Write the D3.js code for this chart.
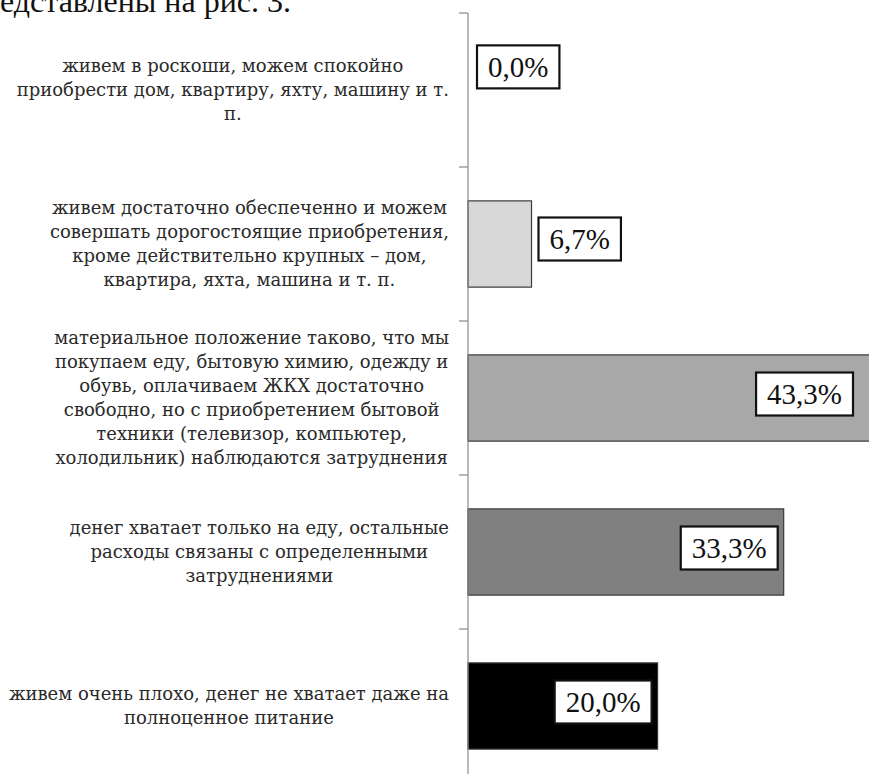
<!DOCTYPE html>
<html>
<head>
<meta charset="utf-8">
<script src="https://cdn.jsdelivr.net/npm/d3@7"></script>
<style>
  body { margin: 0; background: #fff; }
  svg { display: block; }
</style>
</head>
<body>
<svg id="chart" width="869" height="774"></svg>
<script>
// categories, top to bottom, already split into lines as in the picture
var categories = [
    ["живем в роскоши, можем спокойно", "приобрести дом, квартиру, яхту, машину и т.", "п."],
    ["живем достаточно обеспеченно и можем", "совершать дорогостоящие приобретения,", "кроме действительно крупных – дом,", "квартира, яхта, машина и т. п."],
    ["материальное положение таково, что мы", "покупаем еду, бытовую химию, одежду и", "обувь, оплачиваем ЖКХ достаточно", "свободно, но с приобретением бытовой", "техники (телевизор, компьютер,", "холодильник) наблюдаются затруднения"],
    ["денег хватает только на еду, остальные", "расходы связаны с определенными", "затруднениями"],
    ["живем очень плохо, денег не хватает даже на", "полноценное питание"]
];
var values = [0.0, 6.7, 43.3, 33.3, 20.0];
var valueLabels = ["0,0%", "6,7%", "43,3%", "33,3%", "20,0%"];
var barColors = ["#ffffff", "#d8d8d8", "#a8a8a8", "#808080", "#000000"];
var headerText = "едставлены на рис. 3.";

function drawChart() {
    var W = 869, H = 774;
    var svg = d3.select("#chart");
    var axisX = 468, topY = 13, step = 154;

    // header line of the surrounding document, cut off at the top
    svg.append("text")
        .attr("x", 291).attr("y", 12)
        .attr("text-anchor", "end")
        .style("font-family", "Liberation Serif")
        .style("font-size", "32px")
        .attr("fill", "#111")
        .text(headerText);

    var idx = d3.range(categories.length);
    var y = d3.scaleBand()
        .domain(idx)
        .range([topY, topY + step * categories.length])
        .paddingInner(0.44)
        .paddingOuter(0.22);

    var x = d3.scaleLinear().domain([0, 50]).range([axisX, axisX + 474]);

    // bars
    svg.append("g").selectAll("rect")
        .data(values)
        .enter().append("rect")
        .attr("x", x(0))
        .attr("y", function (d, i) { return y(i); })
        .attr("width", function (d) { return x(d) - x(0); })
        .attr("height", y.bandwidth())
        .attr("fill", function (d, i) { return barColors[i]; })
        .attr("stroke", function (d) { return d > 0 ? "#3a3a3a" : "none"; })
        .attr("stroke-width", 1.2);

    // axis: vertical line + ticks between categories
    var axisG = svg.append("g");
    axisG.append("line")
        .attr("x1", axisX).attr("x2", axisX)
        .attr("y1", topY).attr("y2", H)
        .attr("stroke", "#8a8a8a").attr("stroke-width", 1.2);
    axisG.selectAll(".tick")
        .data(d3.range(categories.length + 1))
        .enter().append("line")
        .attr("x1", axisX - 9).attr("x2", axisX)
        .attr("y1", function (i) { return topY + i * step; })
        .attr("y2", function (i) { return topY + i * step; })
        .attr("stroke", "#8a8a8a").attr("stroke-width", 1.2);

    // category labels: lines centred inside a block whose right edge sits at 449
    var labelRight = 449, lineH = 24;
    var catG = svg.append("g")
        .style("font-family", "DejaVu Serif")
        .style("font-size", "18px")
        .attr("fill", "#2a2a2a");
    categories.forEach(function (lines, i) {
        var g = catG.append("g");
        var cy = y(i) + y.bandwidth() / 2;
        var texts = lines.map(function (ln, k) {
            return g.append("text")
                .attr("text-anchor", "middle")
                .attr("y", cy + (k - (lines.length - 1) / 2) * lineH + 6)
                .text(ln);
        });
        var maxW = d3.max(texts, function (t) { return t.node().getComputedTextLength(); });
        texts.forEach(function (t) { t.attr("x", labelRight - maxW / 2); });
    });

    // value labels in boxes
    var labG = svg.append("g");
    values.forEach(function (v, i) {
        var g = labG.append("g");
        var t = g.append("text")
            .style("font-family", "Liberation Serif")
            .style("font-size", "29px")
            .attr("fill", "#111")
            .text(valueLabels[i]);
        var tw = t.node().getComputedTextLength();
        var pad = 11;
        var bw = tw + 2 * pad, bh = 43;
        var barEnd = x(v);
        var bx, cy;
        if (v === 0) {
            bx = x(0) + 9;
            cy = y(i) + 20;
        } else if (v < 10) {
            bx = barEnd + 7;
            cy = y(i) + y.bandwidth() / 2 - 5;
        } else {
            // inside end; the longest bar runs past the frame
            var right = barEnd > W ? W - 16 : barEnd - 6;
            bx = right - bw;
            cy = y(i) + y.bandwidth() / 2 - 4;
        }
        g.insert("rect", "text")
            .attr("x", bx).attr("y", cy - bh / 2)
            .attr("width", bw).attr("height", bh)
            .attr("fill", "#fff")
            .attr("stroke", "#111").attr("stroke-width", 2.2);
        t.attr("x", bx + pad).attr("y", cy + 10);
    });
}
drawChart();
</script>
</body>
</html>
